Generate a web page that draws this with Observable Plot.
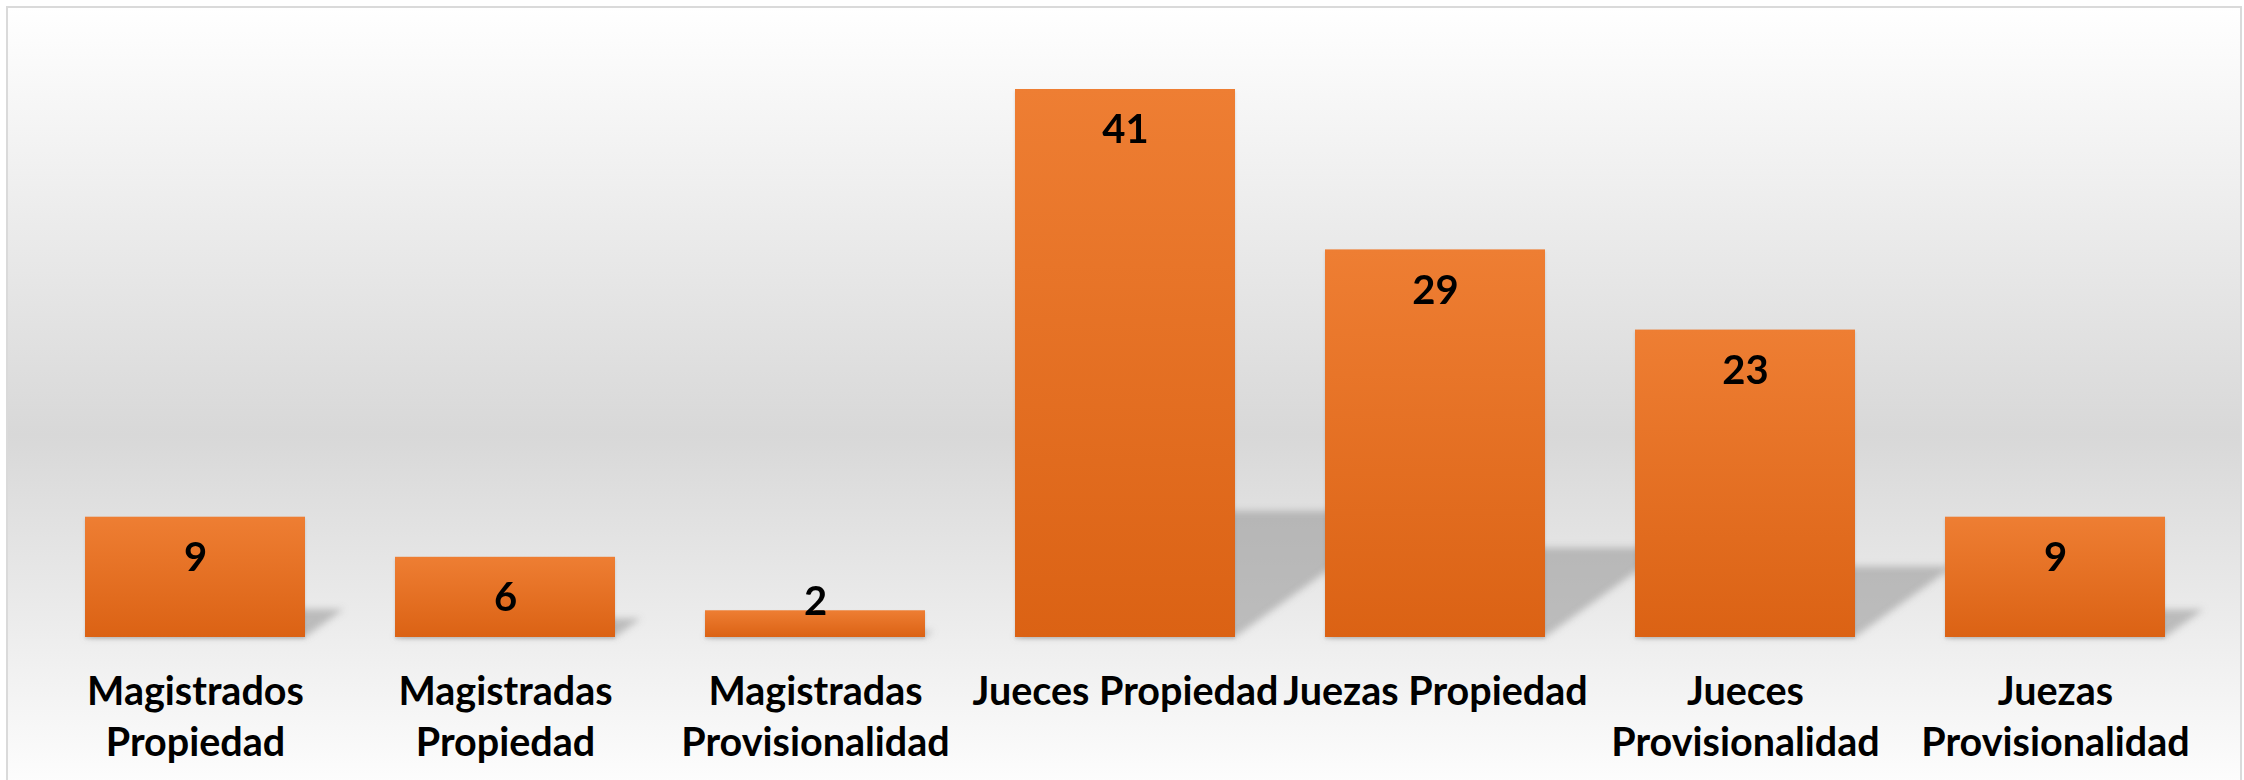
<!DOCTYPE html>
<html><head><meta charset="utf-8">
<script src="https://cdn.jsdelivr.net/npm/d3@7"></script>
<script src="https://cdn.jsdelivr.net/npm/@observablehq/plot@0.6"></script>
<style>
html,body{margin:0;padding:0;overflow:hidden;background:#fff;}
#wrap{position:relative;width:2244px;height:780px;}
#bg{position:absolute;left:6px;top:6px;width:2236px;height:780px;border:2px solid #dadada;box-sizing:border-box;
  background:linear-gradient(to bottom,#ffffff 0%,#d8d8d8 55%,#fdfdfd 100%);}
#chart{position:absolute;left:0;top:0;}
</style></head><body>
<div id="wrap"><div id="bg"></div><div id="chart"></div></div>
<script>
const categories = ["Magistrados Propiedad","Magistradas Propiedad","Magistradas Provisionalidad","Jueces Propiedad","Juezas Propiedad","Jueces Provisionalidad","Juezas Provisionalidad"];
const values = [9, 6, 2, 41, 29, 23, 9];
const tickLabels = ["Magistrados\nPropiedad","Magistradas\nPropiedad","Magistradas\nProvisionalidad","Jueces Propiedad","Juezas Propiedad","Jueces\nProvisionalidad","Juezas\nProvisionalidad"];

const data = categories.map((c, i) => ({cat: c, value: values[i], label: tickLabels[i]}));
const insideMin = 4; // bars shorter than this get the label lifted above
const font = "Lato, 'Open Sans', sans-serif";

const chart = Plot.plot({
  width: 2244, height: 780,
  marginLeft: 38, marginRight: 31, marginTop: 89, marginBottom: 143,
  style: {background: "transparent", overflow: "visible", fontFamily: font},
  x: {domain: categories, paddingInner: 0.289, paddingOuter: 0.1445, axis: null},
  y: {domain: [0, d3.max(values)], axis: null},
  marks: [
    Plot.barY(data, {x: "cat", y: "value", fill: "#8c8c8c", fillOpacity: 0.5}),
    Plot.barY(data, {x: "cat", y: "value", fill: "#000", fillOpacity: 0.12, dy: 2}),
    Plot.barY(data, {x: "cat", y: "value", fill: "url(#barGrad)"}),
    Plot.text(data.filter(d => d.value >= insideMin), {x: "cat", y: "value", text: d => String(d.value), dy: 41,
      fontSize: 40, fontWeight: 700, fontFamily: font, fill: "#000"}),
    Plot.text(data.filter(d => d.value < insideMin), {x: "cat", y: "value", text: d => String(d.value), dy: -9,
      fontSize: 40, fontWeight: 700, fontFamily: font, fill: "#000"}),
    Plot.text(data, {x: "cat", text: "label", frameAnchor: "bottom", lineAnchor: "top", dy: 31,
      fontSize: 39.5, fontWeight: 700, fontFamily: font, lineHeight: 1.3, fill: "#000"})
  ]
});

const svg = d3.select(chart);
const defs = svg.insert("defs", ":first-child");
const g = defs.append("linearGradient").attr("id", "barGrad").attr("x1", 0).attr("y1", 0).attr("x2", 0).attr("y2", 1);
g.append("stop").attr("offset", "0%").attr("stop-color", "#ee7e33");
g.append("stop").attr("offset", "100%").attr("stop-color", "#db6214");
const f = defs.append("filter").attr("id", "shBlur").attr("filterUnits", "userSpaceOnUse")
  .attr("x", 0).attr("y", 0).attr("width", 2244).attr("height", 780);
f.append("feGaussianBlur").attr("stdDeviation", 3.5);
const f2 = defs.append("filter").attr("id", "dropBlur").attr("filterUnits", "userSpaceOnUse")
  .attr("x", 0).attr("y", 0).attr("width", 2244).attr("height", 780);
f2.append("feGaussianBlur").attr("stdDeviation", 1.5);

const groups = svg.selectAll(":scope > g").nodes().filter(n => n.querySelector("rect"));
const base = chart.scale("y").apply(0);
const k = 0.23, c = 0.32;
if (groups.length >= 2) {
  d3.select(groups[0]).attr("filter", "url(#shBlur)")
    .selectAll("rect").attr("transform", `matrix(1,0,${-c},${k},${c * base},${(1 - k) * base})`);
  d3.select(groups[1]).attr("filter", "url(#dropBlur)");
}

document.getElementById("chart").appendChild(chart);
</script>
</body></html>
